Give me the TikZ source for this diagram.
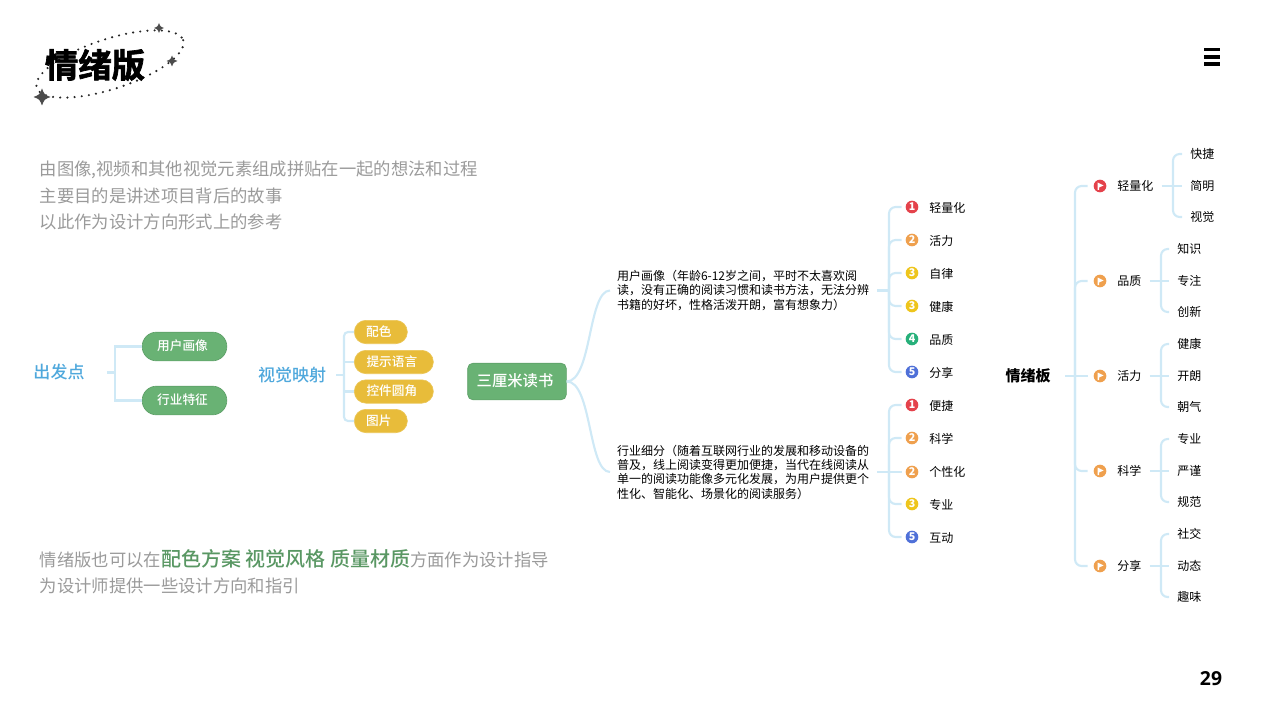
\documentclass[tikz,border=0pt]{standalone}
\usepackage{fontspec}
\setmainfont{Noto Sans CJK SC}
\newfontfamily\titlefont[FakeBold=2]{Noto Sans CJK SC Bold}
\newfontfamily\medfont{Noto Sans CJK SC Medium}
\newfontfamily\numfont{Open Sans}
\definecolor{linecol}{HTML}{CFE9F6}
\definecolor{greycol}{HTML}{9A9A9A}
\definecolor{headcol}{HTML}{4FA8DC}
\definecolor{pillgreen}{HTML}{69B274}
\definecolor{pillyellow}{HTML}{E8BC3A}
\definecolor{notered}{HTML}{E4424B}
\definecolor{noteorange}{HTML}{EFA04E}
\definecolor{noteyellow}{HTML}{EEC51C}
\definecolor{notegreen}{HTML}{27B07A}
\definecolor{noteblue}{HTML}{4F70D8}
\tikzset{
  branch/.style={draw=linecol,line width=1.6pt,rounded corners=5pt},
  sharpbranch/.style={draw=linecol,line width=1.6pt},
  head/.style={inner ysep=0pt,text=headcol,font=\medfont\fontsize{12.75pt}{15pt}\selectfont},
  grey/.style={anchor=west,inner sep=0pt,text height=13.4pt,text depth=2pt,text=greycol,font=\fontsize{13pt}{16pt}\selectfont},
  gpill/.style={rectangle,rounded corners=10.7pt,fill=pillgreen,draw=pillgreen!90!black,line width=0.5pt,text=white,minimum height=21.5pt,inner sep=0pt,minimum width=63.5pt,text height=7.5pt,text depth=1.5pt,font=\medfont\fontsize{9.5pt}{12pt}\selectfont},
  ypill/.style={rectangle,rounded corners=8.7pt,fill=pillyellow,draw=pillyellow!85!white,line width=0.5pt,text=white,minimum height=17.5pt,inner sep=0pt,anchor=west,text height=7.5pt,text depth=1.5pt,font=\medfont\fontsize{9.5pt}{12pt}\selectfont},
  para/.style={anchor=west,text width=189.75pt,align=left,inner sep=0pt,outer xsep=5.25pt,font=\fontsize{9pt}{10.75pt}\selectfont},
  leaf/.style={anchor=west,inner xsep=6pt,inner ysep=0pt,text height=9.8pt,text depth=1.5pt,font=\fontsize{9pt}{11pt}\selectfont},
  rleaf/.style={leaf,text height=8.3pt},
  note/.style={circle,fill=#1,text=white,minimum size=9.5pt,inner sep=0pt,outer sep=3pt,font=\fontsize{8pt}{8pt}\selectfont\bfseries},
  flagdot/.style={circle,fill=#1,minimum size=9.5pt,inner sep=0pt,outer sep=4.5pt},
}
\newcommand{\sparkle}[3]{\fill[black!70,shift={(#1,#2)},scale=#3] (-1,0) .. controls (-0.28,-0.28) .. (0,-1) .. controls (0.28,-0.28) .. (1,0) .. controls (0.28,0.28) .. (0,1) .. controls (-0.28,0.28) .. (-1,0) -- cycle;}
\newcommand{\flagin}[1]{\fill[white] ([shift={(-2.5,-3.5)}]#1.center) -- ++(6,3) -- ++(-4.5,2) -- ++(0,2.5) -- ++(-1.5,0) -- cycle;}
\begin{document}
\begin{tikzpicture}[x=0.75pt,y=0.75pt,yscale=-1,xscale=1]
\useasboundingbox (0,0) rectangle (1280,720);

% Title
\draw [black!85,line width=1.8pt,line cap=round,dash pattern=on 0pt off 5.4pt,rotate around={-18:(110,64)}] (110,64) ellipse (77 and 25);
\sparkle{42}{97}{8.5}
\sparkle{159}{28}{5}
\sparkle{172}{61}{5.5}
\draw (95,65) node [inner sep=0pt] (title) {\titlefont\fontsize{25pt}{28pt}\selectfont 情绪版};

% Menu icon
\draw [line width=2.5pt] (1204,49.5) -- (1220,49.5) (1204,57) -- (1220,57) (1204,64) -- (1220,64);

% Grey text
\draw (39.5,168) node [grey] (introa) {由图像,视频和其他视觉元素组成拼贴在一起的想法和过程};
\draw (39.5,195) node [grey] (introb) {主要目的是讲述项目背后的故事};
\draw (39.5,221) node [grey] (introc) {以此作为设计方向形式上的参考};
\draw (39.5,559) node [grey] (outroa) {情绪版也可以在{\color{pillgreen!85!black}\medfont\fontsize{15pt}{16pt}\selectfont 配色方案 视觉风格 质量材质}方面作为设计指导};
\draw (39.5,585) node [grey] (outrob) {为设计师提供一些设计方向和指引};

% Start
\draw (59,372.5) node [head,inner xsep=16.5pt] (start) {出发点};
\draw (184.5,346.5) node [gpill] (user) {用户画像\kern3pt};
\draw (184.5,400.5) node [gpill] (trade) {行业特征\kern3pt};
\coordinate (startbus) at (115,372.5);
\draw [sharpbranch] (start.east) -- (startbus);
\draw [sharpbranch] (user.west) -| (startbus);
\draw [sharpbranch] (trade.west) -| (startbus);

% Visual mapping
\draw (292,375) node [head,inner xsep=7.5pt] (visual) {视觉映射};
\draw (354,332) node [ypill,minimum width=39.75pt] (colour) {配色\kern3pt};
\draw (354,362) node [ypill,minimum width=59.25pt] (prompt) {提示语言\kern3pt};
\draw (354,391.5) node [ypill,minimum width=59.25pt] (corner) {控件圆角\kern3pt};
\draw (354,421) node [ypill,minimum width=39.75pt] (image) {图片\kern3pt};
\coordinate (visualbus) at (344,375);
\draw [sharpbranch] (visual.east) -- (visualbus);
\draw [branch,rounded corners=3pt] (visualbus) |- (colour.west);
\draw [sharpbranch] (visualbus) |- (prompt.west);
\draw [sharpbranch] (visualbus) |- (corner.west);
\draw [branch,rounded corners=3pt] (visualbus) |- (image.west);

% Root
\draw (517,381.5) node [rectangle,rounded corners=4pt,fill=pillgreen,draw=pillgreen!90!black,line width=0.5pt,text=white,minimum width=74pt,minimum height=27.5pt,inner sep=0pt,text height=9.5pt,text depth=2pt,font=\medfont\fontsize{11.5pt}{14pt}\selectfont] (root) {三厘米读书\kern3pt};
\draw (610,290.5) node [para] (portrait) {用户画像（年龄6-12岁之间，平时不太喜欢阅\\读，没有正确的阅读习惯和读书方法，无法分辨\\书籍的好坏，性格活泼开朗，富有想象力）};
\draw (610,472) node [para] (segment) {行业细分（随着互联网行业的发展和移动设备的\\普及，线上阅读变得更加便捷，当代在线阅读从\\单一的阅读功能像多元化发展，为用户提供更个\\性化、智能化、场景化的阅读服务）};
\draw [sharpbranch] (root.east) .. controls (592,381) and (588,290.5) .. (portrait.west);
\draw [sharpbranch] (root.east) .. controls (592,381) and (588,472) .. (segment.west);

% Portrait tags
\coordinate (portraitbus) at (889,290.5);
\draw [sharpbranch] (portrait.east) -- (portraitbus);
\draw (912,207) node [note=notered] (pa) {1};
\draw (912,240) node [note=noteorange] (pb) {2};
\draw (912,273) node [note=noteyellow] (pc) {3};
\draw (912,306) node [note=noteyellow] (pd) {3};
\draw (912,339) node [note=notegreen] (pe) {4};
\draw (912,372) node [note=noteblue] (pf) {5};
\draw [branch] (portraitbus) |- (pa.west);
\draw [branch] (portraitbus) |- (pb.west);
\draw [branch] (portraitbus) |- (pc.west);
\draw [branch] (portraitbus) |- (pd.west);
\draw [branch] (portraitbus) |- (pe.west);
\draw [branch] (portraitbus) |- (pf.west);
\draw (921,207) node [leaf] (patext) {轻量化};
\draw (921,240) node [leaf] (pbtext) {活力};
\draw (921,273) node [leaf] (pctext) {自律};
\draw (921,306) node [leaf] (pdtext) {健康};
\draw (921,339) node [leaf] (petext) {品质};
\draw (921,372) node [leaf] (pftext) {分享};

% Segment tags
\coordinate (segmentbus) at (889,472);
\draw [sharpbranch] (segment.east) -- (segmentbus);
\draw (912,405) node [note=notered] (sa) {1};
\draw (912,438) node [note=noteorange] (sb) {2};
\draw (912,472) node [note=noteorange] (sc) {2};
\draw (912,504) node [note=noteyellow] (sd) {3};
\draw (912,537) node [note=noteblue] (se) {5};
\draw [branch] (segmentbus) |- (sa.west);
\draw [branch] (segmentbus) |- (sb.west);
\draw [sharpbranch] (segmentbus) -- (sc.west);
\draw [branch] (segmentbus) |- (sd.west);
\draw [branch] (segmentbus) |- (se.west);
\draw (921,405) node [leaf] (satext) {便捷};
\draw (921,438) node [leaf] (sbtext) {科学};
\draw (921,471) node [leaf] (sctext) {个性化};
\draw (921,504) node [leaf] (sdtext) {专业};
\draw (921,537) node [leaf] (setext) {互动};

% Mood board
\draw (1028,376) node [inner xsep=10.5pt,inner ysep=0pt,font=\fontsize{11.25pt}{14pt}\selectfont\bfseries] (mood) {情绪板};
\coordinate (moodbus) at (1075,376);
\draw [sharpbranch] (mood.east) -- (moodbus);
\draw (1100,186) node [flagdot=notered] (light) {};
\draw (1100,281) node [flagdot=noteorange] (quality) {};
\draw (1100,376) node [flagdot=noteorange] (vigor) {};
\draw (1100,471) node [flagdot=noteorange] (science) {};
\draw (1100,566) node [flagdot=noteorange] (share) {};
\flagin{light}
\flagin{quality}
\flagin{vigor}
\flagin{science}
\flagin{share}
\draw [branch] (moodbus) |- (light.west);
\draw [branch] (moodbus) |- (quality.west);
\draw [sharpbranch] (moodbus) -- (vigor.west);
\draw [branch] (moodbus) |- (science.west);
\draw [branch] (moodbus) |- (share.west);
\draw (1109,186) node [rleaf] (lighttext) {轻量化};
\draw (1109,281) node [rleaf] (qualitytext) {品质};
\draw (1109,376) node [rleaf] (vigortext) {活力};
\draw (1109,471) node [rleaf] (sciencetext) {科学};
\draw (1109,566) node [rleaf] (sharetext) {分享};

% Mood leaves
\draw (1182,154) node [rleaf] (la) {快捷};
\draw (1182,186) node [rleaf] (lb) {简明};
\draw (1182,217) node [rleaf] (lc) {视觉};
\draw (1169,249) node [rleaf] (qa) {知识};
\draw (1169,281) node [rleaf] (qb) {专注};
\draw (1169,312) node [rleaf] (qc) {创新};
\draw (1169,344) node [rleaf] (va) {健康};
\draw (1169,376) node [rleaf] (vb) {开朗};
\draw (1169,407) node [rleaf] (vc) {朝气};
\draw (1169,439) node [rleaf] (ca) {专业};
\draw (1169,471) node [rleaf] (cb) {严谨};
\draw (1169,502) node [rleaf] (cc) {规范};
\draw (1169,534) node [rleaf] (ha) {社交};
\draw (1169,566) node [rleaf] (hb) {动态};
\draw (1169,597) node [rleaf] (hc) {趣味};
\coordinate (lightbus) at (1173,186);
\coordinate (qualitybus) at (1161,281);
\coordinate (vigorbus) at (1161,376);
\coordinate (sciencebus) at (1161,471);
\coordinate (sharebus) at (1161,566);
\draw [sharpbranch] (lighttext.east) -- (lb.west);
\draw [branch] (lightbus) |- (la.west);
\draw [branch] (lightbus) |- (lc.west);
\draw [sharpbranch] (qualitytext.east) -- (qb.west);
\draw [branch] (qualitybus) |- (qa.west);
\draw [branch] (qualitybus) |- (qc.west);
\draw [sharpbranch] (vigortext.east) -- (vb.west);
\draw [branch] (vigorbus) |- (va.west);
\draw [branch] (vigorbus) |- (vc.west);
\draw [sharpbranch] (sciencetext.east) -- (cb.west);
\draw [branch] (sciencebus) |- (ca.west);
\draw [branch] (sciencebus) |- (cc.west);
\draw [sharpbranch] (sharetext.east) -- (hb.west);
\draw [branch] (sharebus) |- (ha.west);
\draw [branch] (sharebus) |- (hc.west);

% Page number
\draw (1211,679) node [inner sep=0pt,font=\numfont\bfseries\fontsize{14.5pt}{16pt}\selectfont] (page) {29};

\end{tikzpicture}
\end{document}
